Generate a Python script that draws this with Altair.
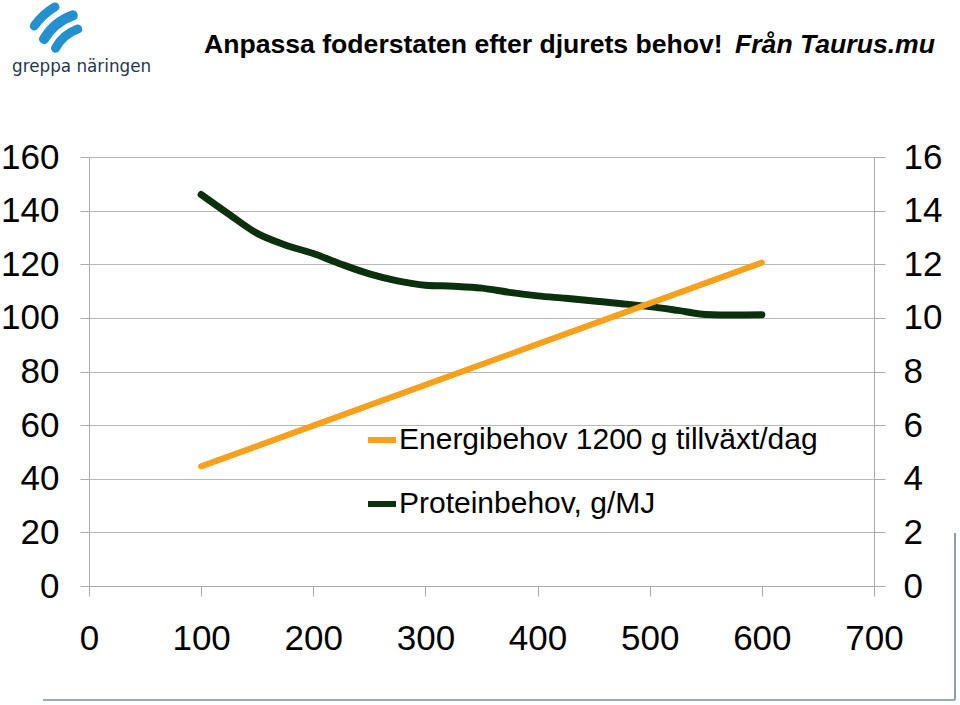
import altair as alt
import pandas as pd

# ---- data ----
x_ticks = [0, 100, 200, 300, 400, 500, 600, 700]
left_ticks = [0, 20, 40, 60, 80, 100, 120, 140, 160]
right_ticks = [0, 2, 4, 6, 8, 10, 12, 14, 16]

energy_label = "Energibehov 1200 g tillväxt/dag"
protein_label = "Proteinbehov, g/MJ"

energy_x = [100, 200, 300, 400, 500, 600]
energy_y = [44.6, 59.8, 75.0, 90.2, 105.4, 120.6]

protein_x = [100, 125, 150, 175, 200, 225, 250, 275, 300, 325, 350, 375, 400,
             425, 450, 475, 500, 525, 550, 575, 600]
protein_y = [14.6, 13.86, 13.15, 12.72, 12.40, 12.0, 11.64, 11.38, 11.22, 11.18,
             11.11, 10.95, 10.82, 10.73, 10.63, 10.53, 10.42, 10.28, 10.13, 10.11, 10.12]

title_main = "Anpassa foderstaten efter djurets behov!"
title_italic = "Från Taurus.mu"
logo_text = "greppa näringen"

ORANGE = "#f7a01c"
GREEN = "#0c300e"
GRID = "#b8b8b8"
AXIS = "#ababab"
FONT = "Liberation Sans"

energy_df = pd.DataFrame({"vikt": energy_x, "varde": energy_y, "serie": energy_label})
protein_df = pd.DataFrame({"vikt": protein_x, "varde": protein_y, "serie": protein_label})
one = pd.DataFrame({"a": [0]})

color = alt.Color(
    "serie:N",
    scale=alt.Scale(domain=[energy_label, protein_label], range=[ORANGE, GREEN]),
    legend=alt.Legend(
        title=None, orient="none", legendX=276, legendY=266, padding=0,
        symbolType="stroke", symbolStrokeWidth=6, symbolSize=784,
        labelFont=FONT, labelFontSize=30, labelColor="black", labelLimit=700,
        labelOffset=0, rowPadding=32,
    ),
)

x_enc = alt.X(
    "vikt:Q",
    scale=alt.Scale(domain=[0, 700], nice=False, zero=False),
    axis=alt.Axis(values=x_ticks, title=None, grid=False, format="d",
                  labelFont=FONT, labelFontSize=35, labelColor="black", labelPadding=25,
                  tickSize=10, tickColor=AXIS, domainColor=AXIS, labelFlush=False),
)

protein = alt.Chart(protein_df).mark_line(
    strokeWidth=7, interpolate="monotone", strokeCap="round"
).encode(
    x=x_enc,
    y=alt.Y("varde:Q", scale=alt.Scale(domain=[0, 16], nice=False),
            axis=alt.Axis(values=right_ticks, orient="right", title=None, grid=False,
                          labelFont=FONT, labelFontSize=35, labelColor="black",
                          labelPadding=18, tickSize=11, tickColor=AXIS, domainColor=AXIS)),
    color=color,
)

energy = alt.Chart(energy_df).mark_line(strokeWidth=6, strokeCap="round").encode(
    x=x_enc,
    y=alt.Y("varde:Q", scale=alt.Scale(domain=[0, 160], nice=False),
            axis=alt.Axis(values=left_ticks, orient="left", title=None, grid=True,
                          gridColor=GRID, gridWidth=1.2,
                          labelFont=FONT, labelFontSize=35, labelColor="black",
                          labelPadding=21, tickSize=9, tickColor=AXIS, domainColor=AXIS)),
    color=color,
)

# ---- title and logo decorations ----
t1 = alt.Chart(one).mark_text(
    text=title_main, font=FONT, fontSize=26.6, fontWeight="bold", align="left",
    baseline="alphabetic", color="black"
).encode(x=alt.value(115), y=alt.value(-104))

t2 = alt.Chart(one).mark_text(
    text=title_italic, font=FONT, fontSize=26.6, fontWeight="bold", fontStyle="italic",
    align="left", baseline="alphabetic", color="black"
).encode(x=alt.value(646), y=alt.value(-104))

logo_t = alt.Chart(one).mark_text(
    text=logo_text, font="DejaVu Sans", fontSize=16.8, align="left",
    baseline="alphabetic", color="#1f3550"
).encode(x=alt.value(-77), y=alt.value(-85))

BLUE = "#2490d0"
arcs = []
for th, th2, r2, r in [(5.28, 5.80, 67, 76), (5.17, 6.02, 51, 61), (5.10, 6.04, 37, 46)]:
    arcs.append(
        alt.Chart(one).mark_arc(theta=th, theta2=th2, radius=r, radius2=r2,
                                cornerRadius=4.5, color=BLUE)
        .encode(x=alt.value(3), y=alt.value(-89))
    )

frame_v = alt.Chart(one).mark_rule(color="#8a9cb0", strokeWidth=2).encode(
    x=alt.value(866), y=alt.value(376), y2=alt.value(543))
frame_h = alt.Chart(one).mark_rule(color="#9aaabb", strokeWidth=2).encode(
    x=alt.value(-46), x2=alt.value(866), y=alt.value(543))

chart = alt.layer(
    protein, energy, t1, t2, logo_t, *arcs, frame_v, frame_h
).resolve_scale(y="independent").properties(
    width=785, height=429,
    autosize=alt.AutoSizeParams(type="none"),
    padding={"left": 89, "top": 157, "right": 86, "bottom": 119},
    background="white",
).configure_view(strokeWidth=0)

chart.save("out.html", embed_options={"renderer": "svg", "actions": False})
